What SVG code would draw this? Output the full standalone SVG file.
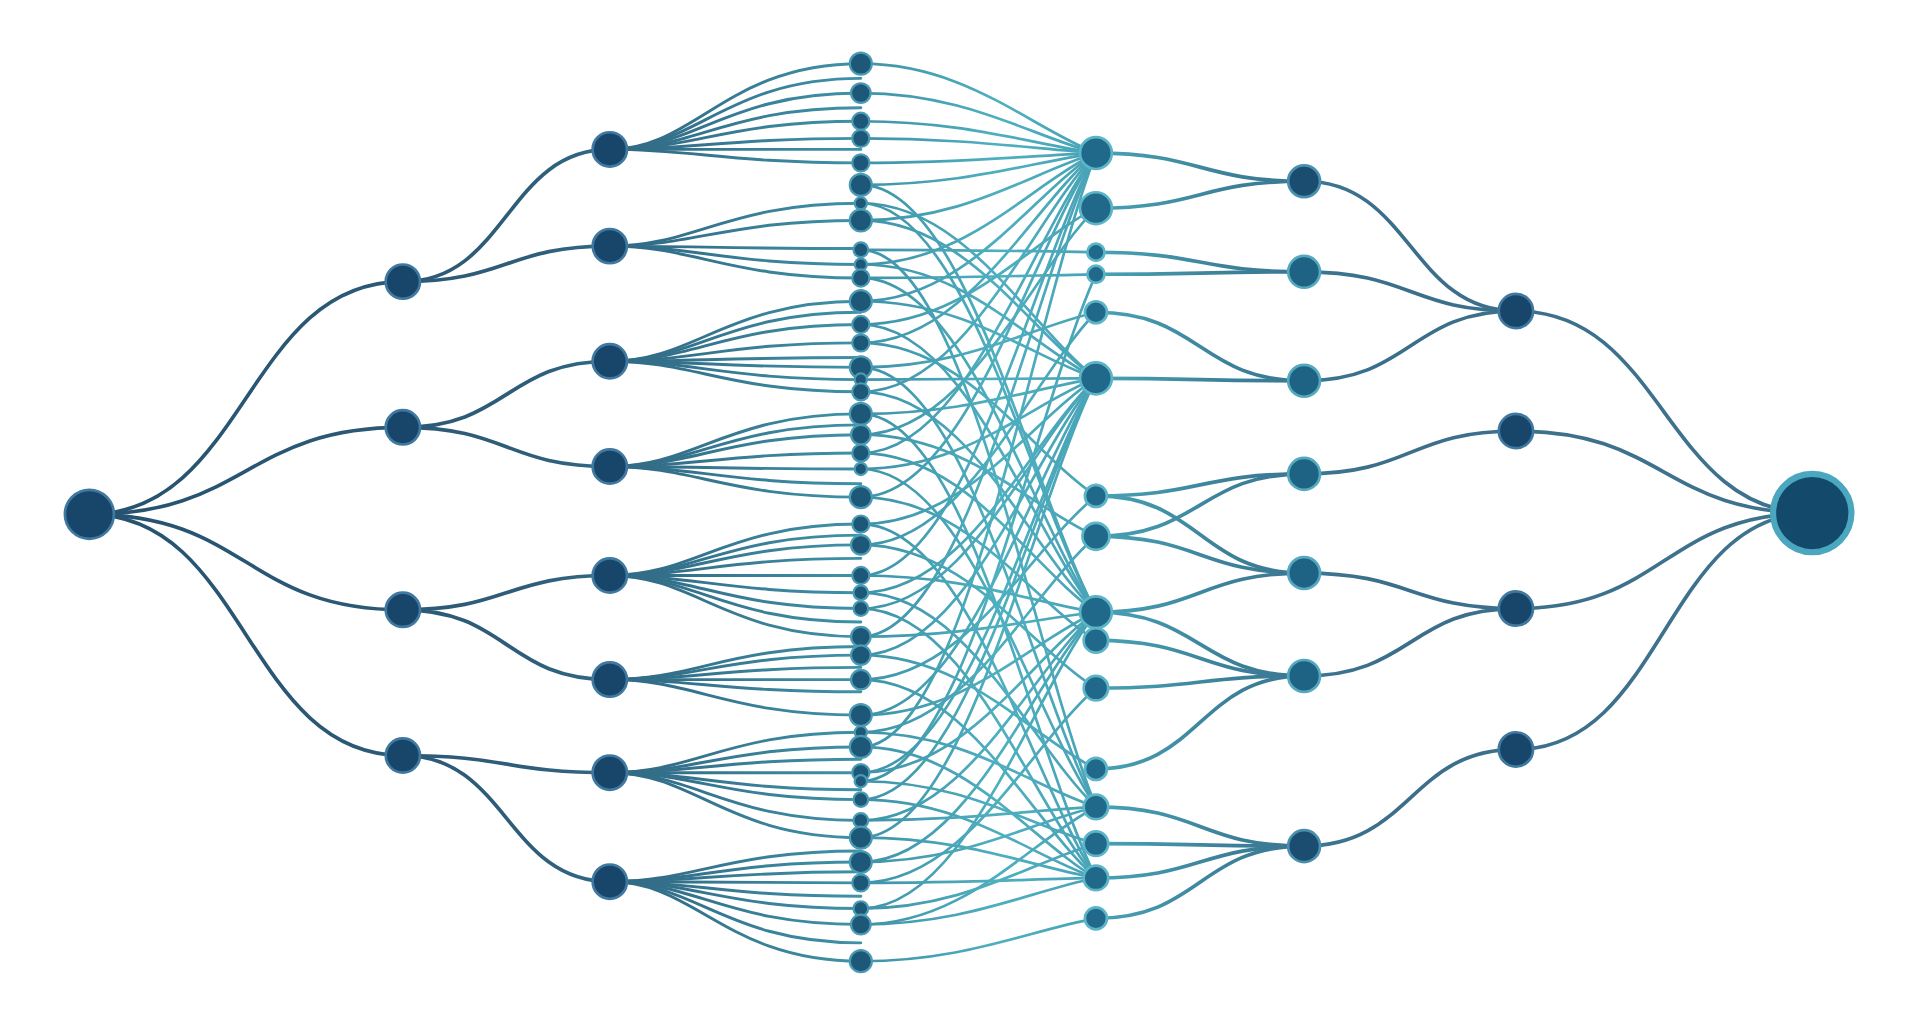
<svg xmlns="http://www.w3.org/2000/svg" width="1920" height="1026" viewBox="0 0 1920 1026">
<defs>
<linearGradient id="lg" gradientUnits="userSpaceOnUse" x1="0" y1="0" x2="1568" y2="0">
<stop offset="0" stop-color="#24506e"/>
<stop offset="0.27" stop-color="#2e5c79"/>
<stop offset="0.36" stop-color="#34738d"/>
<stop offset="0.45" stop-color="#3f93a8"/>
<stop offset="0.52" stop-color="#4eafbf"/>
<stop offset="0.57" stop-color="#48a3b6"/>
<stop offset="0.64" stop-color="#3c8099"/>
<stop offset="0.72" stop-color="#3b6e8a"/>
<stop offset="1" stop-color="#3f748f"/>
</linearGradient>
<style>
.e{fill:none;stroke:url(#lg);stroke-linecap:round}
.w{stroke-width:3}
.f{stroke-width:2.4}
.t{stroke-width:2.2}
.nd{fill:#18456a;stroke:#4079a0;stroke-width:2.2}
.n3{fill:#1d5878;stroke:#4a9ab3;stroke-width:1.8}
.n4{fill:#21698a;stroke:#5bb5c7;stroke-width:2.2}
.n5{fill:#1e6384;stroke:#55a9bf;stroke-width:2.2}
.n5d{fill:#1a4d6f;stroke:#4a8fae;stroke-width:2.2}
.big{fill:#134a6c;stroke:#4ba7bf;stroke-width:5}
</style>
</defs>
<rect width="1920" height="1026" fill="#ffffff"/>
<g transform="scale(1.2245)">
<g id="connectors">
<g class="e w">
<path d="M73 420 C201 420 201 230 329 230"/>
<path d="M73 420 C201 420 201 349 329 349"/>
<path d="M73 420 C201 420 201 498 329 498"/>
<path d="M73 420 C201 420 201 617 329 617"/>
<path d="M329 230 C414 230 414 122 498 122"/>
<path d="M329 230 C414 230 414 201 498 201"/>
<path d="M329 349 C414 349 414 295 498 295"/>
<path d="M329 349 C414 349 414 381 498 381"/>
<path d="M329 498 C414 498 414 470 498 470"/>
<path d="M329 498 C414 498 414 555 498 555"/>
<path d="M329 617 C414 617 414 631 498 631"/>
<path d="M329 617 C414 617 414 720 498 720"/>
</g>
<g class="e f">
<path d="M498 122 C568 122 593 52 703 52"/>
<path d="M498 122 C568 122 593 64 703 64"/>
<path d="M498 122 C568 122 593 76 703 76"/>
<path d="M498 122 C568 122 593 88 703 88"/>
<path d="M498 122 C568 122 593 99 703 99"/>
<path d="M498 122 C568 122 593 113 703 113"/>
<path d="M498 122 C568 122 593 122 703 122"/>
<path d="M498 122 C568 122 593 133 703 133"/>
<path d="M498 201 C568 201 593 166 703 166"/>
<path d="M498 201 C568 201 593 180 703 180"/>
<path d="M498 201 C568 201 593 203 703 203"/>
<path d="M498 201 C568 201 593 216 703 216"/>
<path d="M498 201 C568 201 593 227 703 227"/>
<path d="M498 295 C568 295 593 246 703 246"/>
<path d="M498 295 C568 295 593 255 703 255"/>
<path d="M498 295 C568 295 593 265 703 265"/>
<path d="M498 295 C568 295 593 280 703 280"/>
<path d="M498 295 C568 295 593 292 703 292"/>
<path d="M498 295 C568 295 593 300 703 300"/>
<path d="M498 295 C568 295 593 310 703 310"/>
<path d="M498 295 C568 295 593 320 703 320"/>
<path d="M498 381 C568 381 593 338 703 338"/>
<path d="M498 381 C568 381 593 347 703 347"/>
<path d="M498 381 C568 381 593 355 703 355"/>
<path d="M498 381 C568 381 593 370 703 370"/>
<path d="M498 381 C568 381 593 383 703 383"/>
<path d="M498 381 C568 381 593 395 703 395"/>
<path d="M498 381 C568 381 593 406 703 406"/>
<path d="M498 470 C568 470 593 428 703 428"/>
<path d="M498 470 C568 470 593 437 703 437"/>
<path d="M498 470 C568 470 593 445 703 445"/>
<path d="M498 470 C568 470 593 456 703 456"/>
<path d="M498 470 C568 470 593 470 703 470"/>
<path d="M498 470 C568 470 593 484 703 484"/>
<path d="M498 470 C568 470 593 497 703 497"/>
<path d="M498 470 C568 470 593 508 703 508"/>
<path d="M498 470 C568 470 593 520 703 520"/>
<path d="M498 555 C568 555 593 528 703 528"/>
<path d="M498 555 C568 555 593 535 703 535"/>
<path d="M498 555 C568 555 593 545 703 545"/>
<path d="M498 555 C568 555 593 555 703 555"/>
<path d="M498 555 C568 555 593 565 703 565"/>
<path d="M498 555 C568 555 593 584 703 584"/>
<path d="M498 631 C568 631 593 598 703 598"/>
<path d="M498 631 C568 631 593 610 703 610"/>
<path d="M498 631 C568 631 593 620 703 620"/>
<path d="M498 631 C568 631 593 631 703 631"/>
<path d="M498 631 C568 631 593 645 703 645"/>
<path d="M498 631 C568 631 593 653 703 653"/>
<path d="M498 631 C568 631 593 670 703 670"/>
<path d="M498 631 C568 631 593 684 703 684"/>
<path d="M498 720 C568 720 593 695 703 695"/>
<path d="M498 720 C568 720 593 704 703 704"/>
<path d="M498 720 C568 720 593 712 703 712"/>
<path d="M498 720 C568 720 593 721 703 721"/>
<path d="M498 720 C568 720 593 732 703 732"/>
<path d="M498 720 C568 720 593 742 703 742"/>
<path d="M498 720 C568 720 593 755 703 755"/>
<path d="M498 720 C568 720 593 770 703 770"/>
<path d="M498 720 C568 720 593 785 703 785"/>
</g>
<g class="e t">
<path d="M703 52 C788 52 840 103 895 125"/>
<path d="M703 76 C788 76 840 110 895 125"/>
<path d="M703 99 C788 99 840 117 895 125"/>
<path d="M703 113 C788 113 840 121 895 125"/>
<path d="M703 133 C788 133 840 127 895 125"/>
<path d="M703 151 C788 151 840 133 895 125"/>
<path d="M703 151 C788 151 840 395 895 500"/>
<path d="M703 166 C788 166 840 266 895 309"/>
<path d="M703 166 C788 166 840 400 895 500"/>
<path d="M703 180 C788 180 840 142 895 125"/>
<path d="M703 180 C788 180 840 270 895 309"/>
<path d="M703 204 C788 204 840 205 895 206"/>
<path d="M703 204 C788 204 840 522 895 659"/>
<path d="M703 216 C788 216 840 281 895 309"/>
<path d="M703 216 C788 216 840 152 895 125"/>
<path d="M703 227 C788 227 840 225 895 224"/>
<path d="M703 227 C788 227 840 418 895 500"/>
<path d="M703 246 C788 246 840 161 895 125"/>
<path d="M703 246 C788 246 840 290 895 309"/>
<path d="M703 265 C788 265 840 198 895 170"/>
<path d="M703 265 C788 265 840 430 895 500"/>
<path d="M703 280 C788 280 840 172 895 125"/>
<path d="M703 280 C788 280 840 368 895 405"/>
<path d="M703 300 C788 300 840 268 895 255"/>
<path d="M703 300 C788 300 840 551 895 659"/>
<path d="M703 310 C788 310 840 309 895 309"/>
<path d="M703 320 C788 320 840 184 895 125"/>
<path d="M703 320 C788 320 840 446 895 500"/>
<path d="M703 338 C788 338 840 318 895 309"/>
<path d="M703 338 C788 338 840 603 895 717"/>
<path d="M703 355 C788 355 840 226 895 170"/>
<path d="M703 355 C788 355 840 413 895 438"/>
<path d="M703 370 C788 370 840 199 895 125"/>
<path d="M703 370 C788 370 840 461 895 500"/>
<path d="M703 383 C788 383 840 331 895 309"/>
<path d="M703 383 C788 383 840 576 895 659"/>
<path d="M703 406 C788 406 840 209 895 125"/>
<path d="M703 406 C788 406 840 488 895 523"/>
<path d="M703 428 C788 428 840 345 895 309"/>
<path d="M703 428 C788 428 840 630 895 717"/>
<path d="M703 445 C788 445 840 312 895 255"/>
<path d="M703 445 C788 445 840 527 895 562"/>
<path d="M703 470 C788 470 840 229 895 125"/>
<path d="M703 470 C788 470 840 491 895 500"/>
<path d="M703 484 C788 484 840 362 895 309"/>
<path d="M703 484 C788 484 840 606 895 659"/>
<path d="M703 497 C788 497 840 365 895 309"/>
<path d="M703 497 C788 497 840 651 895 717"/>
<path d="M703 520 C788 520 840 244 895 125"/>
<path d="M703 520 C788 520 840 506 895 500"/>
<path d="M703 535 C788 535 840 377 895 309"/>
<path d="M703 535 C788 535 840 600 895 628"/>
<path d="M703 555 C788 555 840 450 895 405"/>
<path d="M703 555 C788 555 840 668 895 717"/>
<path d="M703 584 C788 584 840 392 895 309"/>
<path d="M703 584 C788 584 840 525 895 500"/>
<path d="M703 598 C788 598 840 486 895 438"/>
<path d="M703 598 C788 598 840 641 895 659"/>
<path d="M703 610 C788 610 840 271 895 125"/>
<path d="M703 610 C788 610 840 685 895 717"/>
<path d="M703 631 C788 631 840 406 895 309"/>
<path d="M703 631 C788 631 840 539 895 500"/>
<path d="M703 638 C788 638 840 348 895 224"/>
<path d="M703 638 C788 638 840 674 895 689"/>
<path d="M703 653 C788 653 840 412 895 309"/>
<path d="M703 653 C788 653 840 698 895 717"/>
<path d="M703 670 C788 670 840 551 895 500"/>
<path d="M703 670 C788 670 840 662 895 659"/>
<path d="M703 684 C788 684 840 422 895 309"/>
<path d="M703 684 C788 684 840 707 895 717"/>
<path d="M703 704 C788 704 840 561 895 500"/>
<path d="M703 704 C788 704 840 672 895 659"/>
<path d="M703 721 C788 721 840 610 895 562"/>
<path d="M703 721 C788 721 840 718 895 717"/>
<path d="M703 742 C788 742 840 573 895 500"/>
<path d="M703 742 C788 742 840 705 895 689"/>
<path d="M703 755 C788 755 840 688 895 659"/>
<path d="M703 755 C788 755 840 728 895 717"/>
<path d="M703 785 C788 785 840 760 895 750"/>
</g>
<g class="e w">
<path d="M895 125 C980 125 980 148 1065 148"/>
<path d="M895 170 C980 170 980 148 1065 148"/>
<path d="M895 206 C980 206 980 222 1065 222"/>
<path d="M895 224 C980 224 980 222 1065 222"/>
<path d="M895 255 C980 255 980 311 1065 311"/>
<path d="M895 309 C980 309 980 311 1065 311"/>
<path d="M895 405 C980 405 980 387 1065 387"/>
<path d="M895 405 C980 405 980 468 1065 468"/>
<path d="M895 438 C980 438 980 387 1065 387"/>
<path d="M895 438 C980 438 980 468 1065 468"/>
<path d="M895 500 C980 500 980 468 1065 468"/>
<path d="M895 500 C980 500 980 552 1065 552"/>
<path d="M895 523 C980 523 980 552 1065 552"/>
<path d="M895 562 C980 562 980 552 1065 552"/>
<path d="M895 628 C980 628 980 552 1065 552"/>
<path d="M895 659 C980 659 980 691 1065 691"/>
<path d="M895 689 C980 689 980 691 1065 691"/>
<path d="M895 717 C980 717 980 691 1065 691"/>
<path d="M895 750 C980 750 980 691 1065 691"/>
<path d="M1065 148 C1152 148 1152 254 1238 254"/>
<path d="M1065 222 C1152 222 1152 254 1238 254"/>
<path d="M1065 311 C1152 311 1152 254 1238 254"/>
<path d="M1065 387 C1152 387 1152 352 1238 352"/>
<path d="M1065 468 C1152 468 1152 497 1238 497"/>
<path d="M1065 552 C1152 552 1152 497 1238 497"/>
<path d="M1065 691 C1152 691 1152 612 1238 612"/>
<path d="M1238 254 C1359 254 1359 419 1480 419"/>
<path d="M1238 352 C1359 352 1359 419 1480 419"/>
<path d="M1238 497 C1359 497 1359 419 1480 419"/>
<path d="M1238 612 C1359 612 1359 419 1480 419"/>
</g>
</g>
<g id="nodes">
<g id="in"><circle class="nd" cx="73" cy="420" r="20"/></g>
<g id="a1"><circle class="nd" cx="329" cy="230" r="14"/></g>
<g id="a2"><circle class="nd" cx="329" cy="349" r="14"/></g>
<g id="a3"><circle class="nd" cx="329" cy="498" r="14"/></g>
<g id="a4"><circle class="nd" cx="329" cy="617" r="14"/></g>
<g id="b1"><circle class="nd" cx="498" cy="122" r="14"/></g>
<g id="b2"><circle class="nd" cx="498" cy="201" r="14"/></g>
<g id="b3"><circle class="nd" cx="498" cy="295" r="14"/></g>
<g id="b4"><circle class="nd" cx="498" cy="381" r="14"/></g>
<g id="b5"><circle class="nd" cx="498" cy="470" r="14"/></g>
<g id="b6"><circle class="nd" cx="498" cy="555" r="14"/></g>
<g id="b7"><circle class="nd" cx="498" cy="631" r="14"/></g>
<g id="b8"><circle class="nd" cx="498" cy="720" r="14"/></g>
<g id="c01"><circle class="n3" cx="703" cy="52" r="9"/></g>
<g id="c02"><circle class="n3" cx="703" cy="76" r="8"/></g>
<g id="c03"><circle class="n3" cx="703" cy="99" r="7"/></g>
<g id="c04"><circle class="n3" cx="703" cy="113" r="7"/></g>
<g id="c05"><circle class="n3" cx="703" cy="133" r="7"/></g>
<g id="c06"><circle class="n3" cx="703" cy="151" r="9"/></g>
<g id="c07"><circle class="n3" cx="703" cy="166" r="5"/></g>
<g id="c08"><circle class="n3" cx="703" cy="180" r="9"/></g>
<g id="c09"><circle class="n3" cx="703" cy="204" r="6"/></g>
<g id="c10"><circle class="n3" cx="703" cy="216" r="5"/></g>
<g id="c11"><circle class="n3" cx="703" cy="227" r="7"/></g>
<g id="c12"><circle class="n3" cx="703" cy="246" r="9"/></g>
<g id="c13"><circle class="n3" cx="703" cy="265" r="7"/></g>
<g id="c14"><circle class="n3" cx="703" cy="280" r="7"/></g>
<g id="c15"><circle class="n3" cx="703" cy="300" r="9"/></g>
<g id="c16"><circle class="n3" cx="703" cy="310" r="5"/></g>
<g id="c17"><circle class="n3" cx="703" cy="320" r="7"/></g>
<g id="c18"><circle class="n3" cx="703" cy="338" r="9"/></g>
<g id="c19"><circle class="n3" cx="703" cy="355" r="8"/></g>
<g id="c20"><circle class="n3" cx="703" cy="370" r="7"/></g>
<g id="c21"><circle class="n3" cx="703" cy="383" r="5"/></g>
<g id="c22"><circle class="n3" cx="703" cy="406" r="9"/></g>
<g id="c23"><circle class="n3" cx="703" cy="428" r="7"/></g>
<g id="c24"><circle class="n3" cx="703" cy="445" r="8"/></g>
<g id="c25"><circle class="n3" cx="703" cy="470" r="7"/></g>
<g id="c26"><circle class="n3" cx="703" cy="484" r="6"/></g>
<g id="c27"><circle class="n3" cx="703" cy="497" r="6"/></g>
<g id="c28"><circle class="n3" cx="703" cy="520" r="8"/></g>
<g id="c29"><circle class="n3" cx="703" cy="535" r="8"/></g>
<g id="c30"><circle class="n3" cx="703" cy="555" r="8"/></g>
<g id="c31"><circle class="n3" cx="703" cy="584" r="9"/></g>
<g id="c32"><circle class="n3" cx="703" cy="598" r="5"/></g>
<g id="c33"><circle class="n3" cx="703" cy="610" r="9"/></g>
<g id="c34"><circle class="n3" cx="703" cy="631" r="7"/></g>
<g id="c35"><circle class="n3" cx="703" cy="638" r="5"/></g>
<g id="c36"><circle class="n3" cx="703" cy="653" r="6"/></g>
<g id="c37"><circle class="n3" cx="703" cy="670" r="6"/></g>
<g id="c38"><circle class="n3" cx="703" cy="684" r="9"/></g>
<g id="c39"><circle class="n3" cx="703" cy="704" r="9"/></g>
<g id="c40"><circle class="n3" cx="703" cy="721" r="7"/></g>
<g id="c41"><circle class="n3" cx="703" cy="742" r="6"/></g>
<g id="c42"><circle class="n3" cx="703" cy="755" r="8"/></g>
<g id="c43"><circle class="n3" cx="703" cy="785" r="9"/></g>
<g id="d01"><circle class="n4" cx="895" cy="125" r="13"/></g>
<g id="d02"><circle class="n4" cx="895" cy="170" r="13"/></g>
<g id="d03"><circle class="n4" cx="895" cy="206" r="7"/></g>
<g id="d04"><circle class="n4" cx="895" cy="224" r="7"/></g>
<g id="d05"><circle class="n4" cx="895" cy="255" r="9"/></g>
<g id="d06"><circle class="n4" cx="895" cy="309" r="13"/></g>
<g id="d07"><circle class="n4" cx="895" cy="405" r="9"/></g>
<g id="d08"><circle class="n4" cx="895" cy="438" r="11"/></g>
<g id="d09"><circle class="n4" cx="895" cy="500" r="13"/></g>
<g id="d10"><circle class="n4" cx="895" cy="523" r="10"/></g>
<g id="d11"><circle class="n4" cx="895" cy="562" r="10"/></g>
<g id="d12"><circle class="n4" cx="895" cy="628" r="9"/></g>
<g id="d13"><circle class="n4" cx="895" cy="659" r="10"/></g>
<g id="d14"><circle class="n4" cx="895" cy="689" r="10"/></g>
<g id="d15"><circle class="n4" cx="895" cy="717" r="10"/></g>
<g id="d16"><circle class="n4" cx="895" cy="750" r="9"/></g>
<g id="e1"><circle class="n5d" cx="1065" cy="148" r="13"/></g>
<g id="e2"><circle class="n5" cx="1065" cy="222" r="13"/></g>
<g id="e3"><circle class="n5" cx="1065" cy="311" r="13"/></g>
<g id="e4"><circle class="n5" cx="1065" cy="387" r="13"/></g>
<g id="e5"><circle class="n5" cx="1065" cy="468" r="13"/></g>
<g id="e6"><circle class="n5" cx="1065" cy="552" r="13"/></g>
<g id="e7"><circle class="n5d" cx="1065" cy="691" r="13"/></g>
<g id="f1"><circle class="nd" cx="1238" cy="254" r="14"/></g>
<g id="f2"><circle class="nd" cx="1238" cy="352" r="14"/></g>
<g id="f3"><circle class="nd" cx="1238" cy="497" r="14"/></g>
<g id="f4"><circle class="nd" cx="1238" cy="612" r="14"/></g>
<g id="out"><circle class="big" cx="1480" cy="419" r="32"/></g>
</g>
</g>
</svg>
